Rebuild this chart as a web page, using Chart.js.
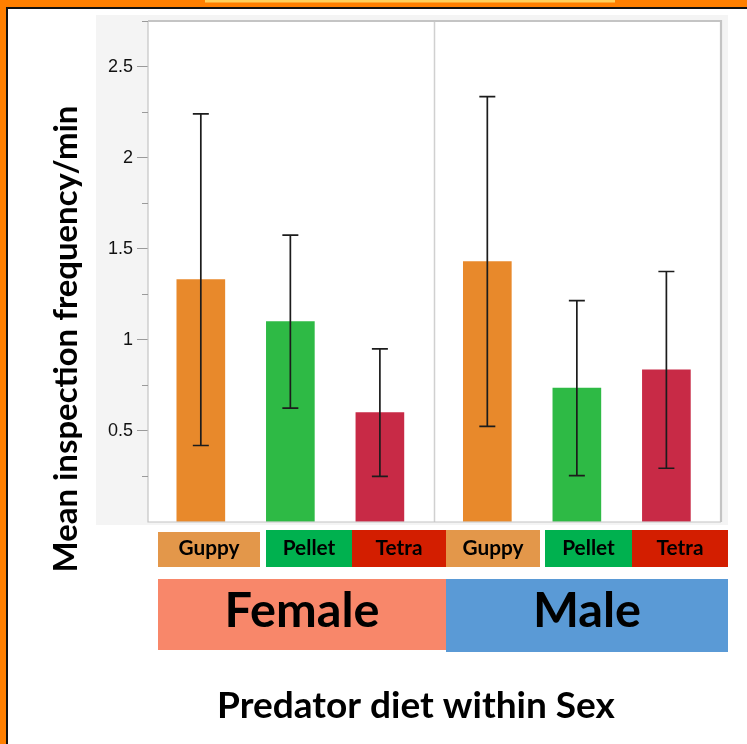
<!DOCTYPE html>
<html>
<head>
<meta charset="utf-8">
<script src="https://cdn.jsdelivr.net/npm/chart.js@4.4.1/dist/chart.umd.min.js"></script>
<style>
  html, body { margin: 0; padding: 0; background: #ffffff; }
  canvas { display: block; }
</style>
</head>
<body>
<canvas id="chart" width="747" height="744"></canvas>
<script>
// ---- data ----
const diets = ['Guppy', 'Pellet', 'Tetra'];
const sexes = ['Female', 'Male'];
const femaleMeans = [1.33, 1.10, 0.60];
const femaleErrors = [0.91, 0.475, 0.35];
const maleMeans = [1.43, 0.735, 0.835];
const maleErrors = [0.905, 0.48, 0.54];
const majorTicks = [0.5, 1, 1.5, 2, 2.5];
const yTitle = 'Mean inspection frequency/min';
const xTitle = 'Predator diet within Sex';

// ---- styles ----
const barColors = ['#E8892B', '#2EBA45', '#C82A46'];
const dietBoxColors = ['#E3974A', '#00B14F', '#D31E00'];
const sexBoxColors = ['#F8876A', '#5A9AD6'];
const FONT = 'Lato, "Open Sans", sans-serif';

// x axis units: each sex panel is 3.2 units wide, bars one unit apart
const PANEL = 3.2, FIRST = 0.59;
const xOf = (s, d) => s * PANEL + FIRST + d;

const means = [femaleMeans, maleMeans];
const errors = [femaleErrors, maleErrors];
const points = [], colors = [], halfErr = [];
means.forEach((arr, s) => arr.forEach((m, d) => {
  points.push({ x: xOf(s, d), y: m });
  colors.push(barColors[d]);
  halfErr.push(errors[s][d]);
}));

// label strip boxes under the plot (pixel layout)
const dietBoxes = [
  [158, 532, 260, 567], [266, 530, 352, 567], [352, 530, 446, 567],
  [446, 530, 540, 567], [545, 530, 632, 567], [632, 530, 728, 567]
];
const sexBoxes = [[158, 579, 446, 650], [446, 579, 728, 652]];

function fitSize(ctx, text, weight, width) {
  ctx.font = `${weight} 100px ${FONT}`;
  return 100 * width / ctx.measureText(text).width;
}

const isMajor = v => majorTicks.some(t => Math.abs(t - v) < 1e-6);

const framePlugin = {
  id: 'frame',
  beforeDraw(chart) {
    const { ctx, chartArea: a } = chart;
    ctx.save();
    ctx.fillStyle = '#ffffff';
    ctx.fillRect(0, 0, 747, 744);
    // outer frame
    ctx.fillStyle = '#FF7F00';
    ctx.fillRect(0, 0, 747, 7);
    ctx.fillRect(0, 0, 6, 744);
    ctx.fillStyle = '#FFCF5A';
    ctx.fillRect(205, 0, 410, 2.5);
    ctx.fillStyle = '#111111';
    ctx.fillRect(6, 7, 741, 2);
    ctx.fillRect(6, 7, 2, 737);
    // panel behind the plot
    ctx.fillStyle = '#F4F4F4';
    ctx.fillRect(96, 15, 632, 510);
    ctx.fillStyle = '#ffffff';
    ctx.fillRect(a.left, a.top, a.right - a.left, a.bottom - a.top);
    ctx.restore();
  },
  afterDatasetsDraw(chart) {
    const { ctx, chartArea: a } = chart;
    const xs = chart.scales.x, ys = chart.scales.y;
    ctx.save();
    // error bars
    ctx.strokeStyle = '#1c1c1c';
    ctx.lineWidth = 1.7;
    points.forEach((p, i) => {
      const x = xs.getPixelForValue(p.x);
      const yTop = ys.getPixelForValue(p.y + halfErr[i]);
      const yBot = ys.getPixelForValue(p.y - halfErr[i]);
      ctx.beginPath();
      ctx.moveTo(x, yTop); ctx.lineTo(x, yBot);
      ctx.moveTo(x - 8, yTop); ctx.lineTo(x + 8, yTop);
      ctx.moveTo(x - 8, yBot); ctx.lineTo(x + 8, yBot);
      ctx.stroke();
    });
    // panel divider
    const xd = xs.getPixelForValue(PANEL);
    ctx.strokeStyle = '#D0D0D0';
    ctx.lineWidth = 1.5;
    ctx.beginPath();
    ctx.moveTo(xd, a.top); ctx.lineTo(xd, a.bottom);
    ctx.stroke();
    // plot border: thin on the left/bottom, heavier on the top/right
    ctx.strokeStyle = '#C4C4C4';
    ctx.lineWidth = 1.2;
    ctx.beginPath();
    ctx.moveTo(a.left, a.top); ctx.lineTo(a.left, a.bottom); ctx.lineTo(a.right, a.bottom);
    ctx.stroke();
    ctx.lineWidth = 2.2;
    ctx.beginPath();
    ctx.moveTo(a.left, a.top); ctx.lineTo(a.right, a.top); ctx.lineTo(a.right, a.bottom);
    ctx.stroke();
    // minor ticks
    ctx.strokeStyle = '#9A9A9A';
    ctx.lineWidth = 1;
    ys.ticks.forEach(t => {
      if (isMajor(t.value) || t.value === 0) return;
      const y = Math.round(ys.getPixelForValue(t.value)) + 0.5;
      ctx.beginPath();
      ctx.moveTo(a.left - 6, y); ctx.lineTo(a.left, y);
      ctx.stroke();
    });
    ctx.restore();
  },
  afterDraw(chart) {
    const { ctx } = chart;
    ctx.save();
    ctx.fillStyle = '#000000';
    ctx.textAlign = 'center';
    ctx.textBaseline = 'alphabetic';
    // diet label boxes
    const small = fitSize(ctx, 'Guppy', 'bold', 61);
    dietBoxes.forEach((b, i) => {
      const d = i % 3;
      ctx.fillStyle = dietBoxColors[d];
      ctx.fillRect(b[0], b[1], b[2] - b[0], b[3] - b[1]);
      ctx.fillStyle = '#000000';
      ctx.font = `bold ${small}px ${FONT}`;
      ctx.fillText(diets[d], (b[0] + b[2]) / 2, 555);
    });
    // sex boxes
    const big = fitSize(ctx, 'Female', 'bold', 155);
    sexBoxes.forEach((b, s) => {
      ctx.fillStyle = sexBoxColors[s];
      ctx.fillRect(b[0], b[1], b[2] - b[0], b[3] - b[1]);
      ctx.fillStyle = '#000000';
      ctx.font = `bold ${big}px ${FONT}`;
      ctx.fillText(sexes[s], (b[0] + b[2]) / 2, 627);
    });
    // axis titles
    ctx.font = `bold ${fitSize(ctx, xTitle, 'bold', 398)}px ${FONT}`;
    ctx.fillText(xTitle, 416, 718);
    ctx.translate(77, 339);
    ctx.rotate(-Math.PI / 2);
    ctx.font = `bold ${fitSize(ctx, yTitle, 'bold', 467)}px ${FONT}`;
    ctx.fillText(yTitle, 0, 0);
    ctx.restore();
  }
};

new Chart(document.getElementById('chart'), {
  type: 'bar',
  data: {
    datasets: [{
      data: points,
      backgroundColor: colors,
      borderWidth: 0,
      barThickness: 48
    }]
  },
  options: {
    responsive: false,
    animation: false,
    devicePixelRatio: 1,
    layout: { padding: { left: 0, right: 26, top: 21, bottom: 222 } },
    plugins: { legend: { display: false }, tooltip: { enabled: false } },
    scales: {
      x: { type: 'linear', min: 0, max: 2 * PANEL, offset: false, display: false },
      y: {
        min: 0, max: 2.75,
        afterFit(scale) { scale.width = 148; },
        ticks: {
          stepSize: 0.25,
          padding: 4,
          color: '#111111',
          font: { family: '"Liberation Sans", Arial, sans-serif', size: 18 },
          callback: v => isMajor(v) ? String(v) : ''
        },
        grid: {
          drawOnChartArea: false,
          drawTicks: true,
          tickLength: 11,
          tickColor: c => isMajor(c.tick.value) ? '#9A9A9A' : 'rgba(0,0,0,0)'
        },
        border: { display: false }
      }
    }
  },
  plugins: [framePlugin]
});
</script>
</body>
</html>
